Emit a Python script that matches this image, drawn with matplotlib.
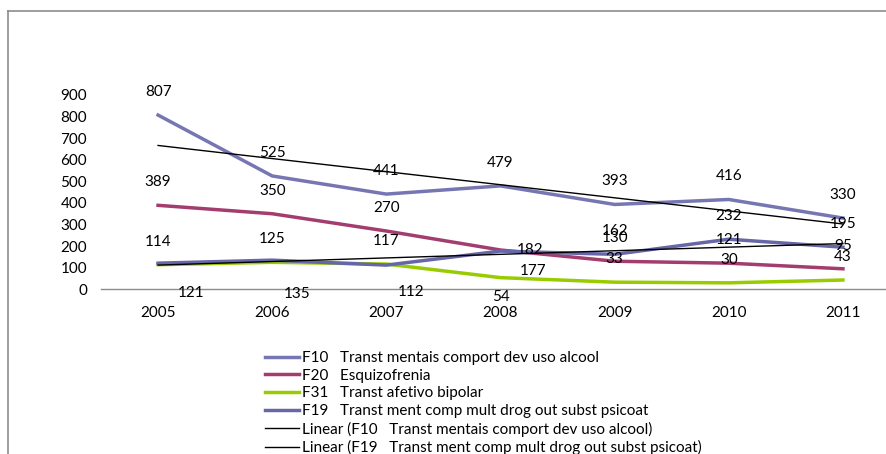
import numpy as np
import matplotlib
matplotlib.use('Agg')
from matplotlib import pyplot as plt
from matplotlib.lines import Line2D

plt.rcParams['font.family'] = ['Lato', 'DejaVu Sans']

# Internacoes por diagnostico, 2005-2011
years = ['2005', '2006', '2007', '2008', '2009', '2010', '2011']
f10 = [807, 525, 441, 479, 393, 416, 330]
f20 = [389, 350, 270, 182, 130, 121, 95]
f31 = [114, 125, 117, 54, 33, 30, 43]
f19 = [121, 135, 112, 177, 162, 232, 195]

names = ['F10   Transt mentais comport dev uso alcool',
         'F20   Esquizofrenia',
         'F31   Transt afetivo bipolar',
         'F19   Transt ment comp mult drog out subst psicoat']

W, H = 887, 454
fig = plt.figure(figsize=(W / 100, H / 100), dpi=100)

# plot area in pixels: left 101, right 900 (runs off the edge), y=0 at 289, y=900 at 95
ax = fig.add_axes([101 / W, (H - 289.3) / H, 799 / W, 194.3 / H])

x = np.arange(len(years))
l10, = ax.plot(x, f10, color='#7676b2', lw=2.5, solid_joinstyle='round')
l20, = ax.plot(x, f20, color='#a33d6f', lw=2.5, solid_joinstyle='round')
l31, = ax.plot(x, f31, color='#99cc00', lw=2.5, solid_joinstyle='round')
l19, = ax.plot(x, f19, color='#6666a8', lw=2.5, solid_joinstyle='round')

# linear trend lines
p10 = np.polyfit(x, f10, 1)
p19 = np.polyfit(x, f19, 1)
t10, = ax.plot(x, np.polyval(p10, x), color='black', lw=1.0)
t19, = ax.plot(x, np.polyval(p19, x), color='black', lw=1.0)

# data labels, default 23px above the point, some nudged
series = [f10, f20, f31, f19]
nudge = {
    (1, 3): (30, 0),
    (2, 3): (0, -19),
    (3, 0): (33, -30),
    (3, 1): (25, -34),
    (3, 2): (25, -27),
    (3, 3): (33, -20),
}
for s, vals in enumerate(series):
    for i, v in enumerate(vals):
        dx, dy = nudge.get((s, i), (0, 23))
        ax.annotate(str(v), (x[i], v), xytext=(dx, dy), textcoords='offset pixels',
                    ha='center', va='center', fontsize=11, color='black')

ax.set_xlim(-0.5, len(years) - 0.5)
ax.set_ylim(0, 900)
ax.set_yticks(range(0, 901, 100))
ax.set_xticks(x)
ax.set_xticklabels(years)
ax.tick_params(axis='both', length=0, labelsize=11, colors='black')
ax.tick_params(axis='y', pad=10)
ax.tick_params(axis='x', pad=12)
for side in ['top', 'right', 'left']:
    ax.spines[side].set_visible(False)
ax.spines['bottom'].set_color('#8c8c8c')
ax.spines['bottom'].set_linewidth(1.0)
ax.patch.set_visible(False)

handles = [l10, l20, l31, l19, t10, t19]
labels = names + ['Linear (' + names[0] + ')', 'Linear (' + names[3] + ')']
leg = fig.legend(handles, labels, loc='upper left',
                 bbox_to_anchor=(265 / W, (H - 351) / H),
                 frameon=False, fontsize=11, handlelength=2.2,
                 handletextpad=0.25, labelspacing=0.24, borderpad=0,
                 borderaxespad=0)

# chart border (cut off on the right and bottom)
fig.add_artist(Line2D([8.5 / W, 8.5 / W], [0, (H - 11) / H], color='#8c8c8c', lw=1.2,
                      transform=fig.transFigure))
fig.add_artist(Line2D([8.5 / W, 1], [(H - 11) / H, (H - 11) / H], color='#8c8c8c', lw=1.2,
                      transform=fig.transFigure))

fig.savefig('out.png', dpi=100)
